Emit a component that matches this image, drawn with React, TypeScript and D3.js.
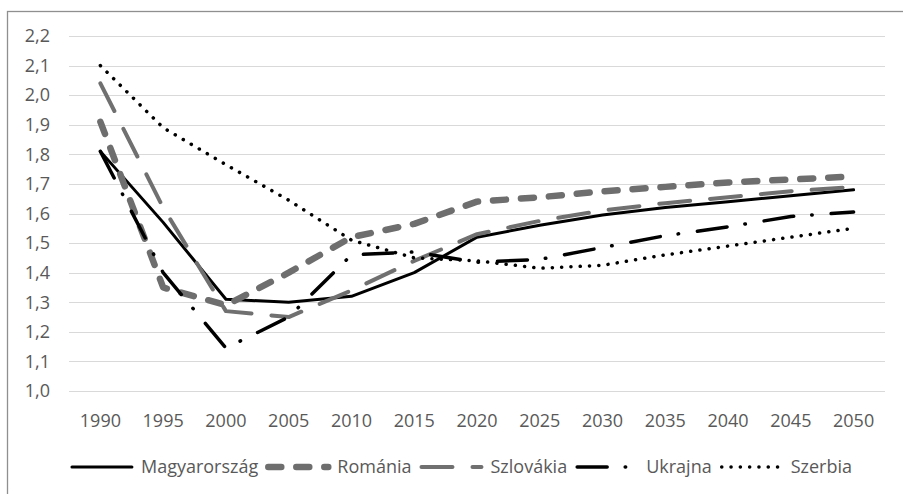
import React, { useRef, useEffect } from 'react';
import * as d3 from 'd3';

const years = ['1990', '1995', '2000', '2005', '2010', '2015', '2020', '2025', '2030', '2035', '2040', '2045', '2050'];
const yTicks = [1.0, 1.1, 1.2, 1.3, 1.4, 1.5, 1.6, 1.7, 1.8, 1.9, 2.0, 2.1, 2.2];

const magyarorszag = [1.81, 1.57, 1.31, 1.30, 1.32, 1.40, 1.52, 1.56, 1.595, 1.62, 1.64, 1.66, 1.68];
const romania = [1.91, 1.35, 1.29, 1.40, 1.52, 1.565, 1.64, 1.655, 1.675, 1.69, 1.705, 1.715, 1.725];
const szlovakia = [2.04, 1.62, 1.27, 1.25, 1.34, 1.44, 1.53, 1.575, 1.61, 1.635, 1.655, 1.675, 1.69];
const ukrajna = [1.81, 1.40, 1.145, 1.25, 1.46, 1.47, 1.435, 1.445, 1.485, 1.525, 1.555, 1.59, 1.605];
const szerbia = [2.10, 1.89, 1.765, 1.645, 1.51, 1.45, 1.44, 1.415, 1.425, 1.46, 1.49, 1.52, 1.55];

const seriesNames = ['Magyarország', 'Románia', 'Szlovákia', 'Ukrajna', 'Szerbia'];
const seriesValues = [magyarorszag, romania, szlovakia, ukrajna, szerbia];

// line styles per series
const styles = [
  { color: '#000000', width: 3, dash: null, cap: 'round' },
  { color: '#6e6e6e', width: 6.5, dash: '13 15', cap: 'round' },
  { color: '#707070', width: 4, dash: '31 20', cap: 'round' },
  { color: '#000000', width: 3.5, dash: '30 18 0.5 19', cap: 'round' },
  { color: '#000000', width: 3.5, dash: '0.1 9.2', cap: 'round' },
];

const W = 903, H = 494;
const FONT = '"Open Sans", sans-serif';

const App = () => {
  const svgRef = useRef<SVGSVGElement>(null);

  useEffect(() => {
    const svg = d3.select(svgRef.current);
    svg.selectAll('*').remove();

    const left = 69, right = 885, top = 36, bottom = 391;

    const x = d3.scalePoint<string>().domain(years).range([left, right]).padding(0.5);
    const y = d3.scaleLinear().domain([1.0, 2.2]).range([bottom, top]);

    // chart frame
    svg.append('rect')
      .attr('x', 7.5).attr('y', 11.5)
      .attr('width', 930).attr('height', 500)
      .attr('fill', '#fff')
      .attr('stroke', '#8f8f8f')
      .attr('stroke-width', 1.3);

    // gridlines
    svg.append('g')
      .selectAll('line')
      .data(yTicks)
      .join('line')
      .attr('x1', left).attr('x2', right)
      .attr('y1', d => Math.round(y(d)) + 0.5)
      .attr('y2', d => Math.round(y(d)) + 0.5)
      .attr('stroke', '#d9d9d9')
      .attr('stroke-width', 1.2);

    // y labels
    svg.append('g')
      .selectAll('text')
      .data(yTicks)
      .join('text')
      .attr('x', 50)
      .attr('y', d => y(d))
      .attr('dy', '0.35em')
      .attr('text-anchor', 'end')
      .attr('font-family', FONT)
      .attr('font-size', 18)
      .attr('fill', '#595959')
      .text(d => d3.format('.1f')(d).replace('.', ','));

    // x labels
    svg.append('g')
      .selectAll('text')
      .data(years)
      .join('text')
      .attr('x', d => x(d)!)
      .attr('y', 421)
      .attr('dy', '0.35em')
      .attr('text-anchor', 'middle')
      .attr('font-family', FONT)
      .attr('font-size', 18)
      .attr('fill', '#595959')
      .text(d => d);

    // lines
    const line = d3.line<number>()
      .x((d, i) => x(years[i])!)
      .y(d => y(d));

    seriesValues.forEach((vals, i) => {
      const s = styles[i];
      svg.append('path')
        .datum(vals)
        .attr('fill', 'none')
        .attr('stroke', s.color)
        .attr('stroke-width', s.width)
        .attr('stroke-linecap', s.cap)
        .attr('stroke-linejoin', 'round')
        .attr('stroke-dasharray', s.dash)
        .attr('d', line);
    });

    // legend
    const legend = svg.append('g');
    const sampleLen = 60, gapText = 9, gapItem = 10, ly = 467;
    const items = seriesNames.map((name, i) => {
      const g = legend.append('g');
      const s = styles[i];
      g.append('line')
        .attr('x1', 0).attr('x2', sampleLen)
        .attr('y1', ly).attr('y2', ly)
        .attr('stroke', s.color)
        .attr('stroke-width', s.width)
        .attr('stroke-linecap', s.cap)
        .attr('stroke-dasharray', s.dash);
      const t = g.append('text')
        .attr('x', sampleLen + gapText)
        .attr('y', ly)
        .attr('dy', '0.35em')
        .attr('font-family', FONT)
        .attr('font-size', 18)
        .attr('fill', '#595959')
        .text(name);
      const tw = (t.node() as SVGTextElement).getComputedTextLength();
      return { g, w: sampleLen + gapText + tw };
    });
    const total = d3.sum(items, d => d.w) + gapItem * (items.length - 1);
    let cx = 462 - total / 2;
    items.forEach(it => {
      it.g.attr('transform', `translate(${cx},0)`);
      cx += it.w + gapItem;
    });
  }, []);

  return (
    <svg
      ref={svgRef}
      width={W}
      height={H}
      style={{ position: 'absolute', left: 0, top: 0, background: '#fff' }}
    />
  );
};

export default App;
